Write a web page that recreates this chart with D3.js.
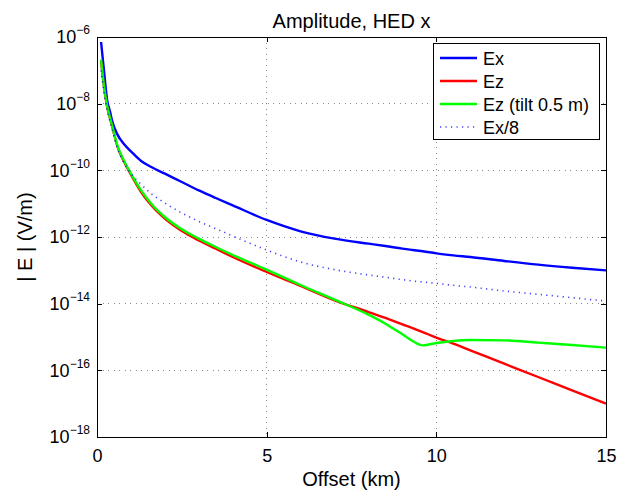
<!DOCTYPE html>
<html>
<head>
<meta charset="utf-8">
<script src="https://cdn.jsdelivr.net/npm/d3@7"></script>
<style>
  body { margin: 0; background: #fff; }
  svg { font-family: "Liberation Sans", Arial, Helvetica, sans-serif; }
  .grid line { stroke: #000; stroke-opacity: 0.45; stroke-dasharray: 1,4.5; shape-rendering: crispEdges; }
  .axis path, .axis line { stroke: #000; shape-rendering: crispEdges; }
  .axis text { fill: #000; font-size: 18px; font-family: "Liberation Sans", Arial, sans-serif; }
</style>
</head>
<body>
<svg class="chart"></svg>
<script>
// offsets (km) shared by all four curves
var offsetKm = [0.12, 0.2, 0.3, 0.38, 0.45, 0.6, 0.8, 1, 1.3, 1.6, 2, 2.5, 3, 3.5, 4, 5, 6, 7, 8, 8.5, 9, 9.3, 9.6, 10, 10.5, 11, 12, 13, 14, 15];

// |E| in V/m
var ex = [7.08e-7, 1.12e-7, 1.26e-8, 6.03e-9, 2.95e-9, 1.20e-9, 6.03e-10, 3.72e-10, 1.91e-10, 1.26e-10, 7.94e-11, 4.47e-11, 2.51e-11, 1.48e-11, 8.91e-12, 3.24e-12, 1.48e-12, 8.91e-13, 6.31e-13, 5.37e-13, 4.47e-13, 4.07e-13, 3.72e-13, 3.24e-13, 2.82e-13, 2.51e-13, 1.91e-13, 1.48e-13, 1.20e-13, 1.0e-13];
var ez = [2.0e-7, 3.55e-8, 7.94e-9, 3.72e-9, 2.0e-9, 5.25e-10, 1.78e-10, 7.41e-11, 2.24e-11, 8.91e-12, 3.55e-12, 1.51e-12, 7.94e-13, 4.47e-13, 2.51e-13, 8.91e-14, 3.39e-14, 1.26e-14, 5.62e-15, 3.72e-15, 2.40e-15, 1.86e-15, 1.41e-15, 9.55e-16, 6.31e-16, 3.98e-16, 1.58e-16, 6.31e-17, 2.51e-17, 1.0e-17];
var ezTilt = [2.09e-7, 3.72e-8, 8.32e-9, 3.89e-9, 2.09e-9, 5.50e-10, 1.91e-10, 7.94e-11, 2.51e-11, 1.0e-11, 3.98e-12, 1.70e-12, 8.91e-13, 5.01e-13, 2.88e-13, 1.05e-13, 3.63e-14, 1.32e-14, 4.68e-15, 2.51e-15, 1.20e-15, 7.59e-16, 5.62e-16, 6.61e-16, 7.59e-16, 8.13e-16, 7.94e-16, 6.76e-16, 5.75e-16, 4.79e-16];
var exOver8 = [1.0e-7, 2.40e-8, 6.31e-9, 3.02e-9, 1.66e-9, 4.68e-10, 1.66e-10, 7.94e-11, 3.80e-11, 2.0e-11, 1.05e-11, 5.25e-12, 2.95e-12, 1.78e-12, 1.07e-12, 4.07e-13, 1.78e-13, 1.05e-13, 7.24e-14, 6.17e-14, 5.25e-14, 4.79e-14, 4.47e-14, 4.07e-14, 3.55e-14, 3.16e-14, 2.40e-14, 1.91e-14, 1.51e-14, 1.20e-14];

var seriesNames = ["Ex", "Ez", "Ez (tilt 0.5 m)", "Ex/8"];
var seriesColors = ["#0000ff", "#ff0000", "#00ff00", "#0000ff"];
var xTicks = [0, 5, 10, 15];
var yTicks = [1e-6, 1e-8, 1e-10, 1e-12, 1e-14, 1e-16, 1e-18];

var width = 622, height = 494;
var margin = {top: 37, right: 16, bottom: 57, left: 97};
var chartWidth = width - margin.left - margin.right;
var chartHeight = height - margin.top - margin.bottom;

var svg = d3.select(".chart").attr("width", width).attr("height", height);
var chart = svg.append("g").attr("transform", "translate(" + margin.left + "," + margin.top + ")");

var x = d3.scaleLinear().domain([0, 15]).range([0, chartWidth]);
var y = d3.scaleLog().domain([1e-18, 1e-6]).range([chartHeight, 0]);

function expOf(v) { return Math.round(Math.log10(v)); }

// dotted grid
var grid = chart.append("g").attr("class", "grid");
grid.selectAll(".gx").data(xTicks.slice(1, -1)).enter().append("line")
    .attr("x1", function(d) { return x(d); }).attr("x2", function(d) { return x(d); })
    .attr("y1", 0).attr("y2", chartHeight);
grid.selectAll(".gy").data(yTicks.slice(1, -1)).enter().append("line")
    .attr("x1", 0).attr("x2", chartWidth)
    .attr("y1", function(d) { return y(d); }).attr("y2", function(d) { return y(d); });

// curves
var series = [ex, ez, ezTilt, exOver8];
var line = d3.line()
    .x(function(d) { return x(d[0]); })
    .y(function(d) { return y(d[1]); })
    .curve(d3.curveMonotoneX);

function styleLine(sel, i) {
  sel.attr("stroke", seriesColors[i]);
  if (i == 3) sel.attr("stroke-width", 1.6).attr("stroke-dasharray", "1.2,4.3").attr("stroke-opacity", 0.75);
  else sel.attr("stroke-width", 2.4);
}

series.forEach(function(vals, i) {
  var pts = offsetKm.map(function(k, j) { return [k, vals[j]]; });
  chart.append("path")
      .datum(pts)
      .attr("fill", "none")
      .attr("d", line)
      .call(styleLine, i);
});

// axes, ticks point inward like matlab
function buildXAxis() {
  chart.append("g").attr("class", "axis")
      .attr("transform", "translate(0," + chartHeight + ")")
      .call(d3.axisBottom(x).tickValues(xTicks).tickSizeInner(-5).tickSizeOuter(0).tickPadding(12));
  chart.append("g").attr("class", "axis")
      .call(d3.axisTop(x).tickValues(xTicks).tickSizeInner(-5).tickSizeOuter(0).tickFormat(""));

  chart.append("text")
      .attr("x", chartWidth / 2).attr("y", chartHeight + 49)
      .attr("text-anchor", "middle").attr("font-size", 20)
      .text("Offset (km)");
}

function buildYAxis() {
  var g = chart.append("g").attr("class", "axis")
      .call(d3.axisLeft(y).tickValues(yTicks).tickSizeInner(-5).tickSizeOuter(0).tickPadding(7).tickFormat(""));
  g.selectAll(".tick text").each(function(d) {
    var t = d3.select(this);
    t.append("tspan").text("10");
    t.append("tspan").attr("dy", -9).attr("font-size", 12).text("\u2212" + (-expOf(d)));
  });
  chart.append("g").attr("class", "axis")
      .attr("transform", "translate(" + chartWidth + ",0)")
      .call(d3.axisRight(y).tickValues(yTicks).tickSizeInner(-5).tickSizeOuter(0).tickFormat(""));

  //Add Text label for the y-axis
  chart.append("text")
      .attr("transform", "translate(" + (32 - margin.left) + "," + (chartHeight / 2) + ") rotate(-90)")
      .attr("text-anchor", "middle").attr("font-size", 20)
      .text("| E | (V/m)");
}

buildXAxis();
buildYAxis();

chart.append("text")
    .attr("x", chartWidth / 2).attr("y", -9)
    .attr("text-anchor", "middle").attr("font-size", 20)
    .text("Amplitude, HED x");

// legend
var legend = chart.append("g").attr("transform", "translate(" + (433 - margin.left) + "," + (43 - margin.top) + ")");
legend.append("rect").attr("width", 166).attr("height", 96)
    .attr("fill", "#fff").attr("stroke", "#000").attr("shape-rendering", "crispEdges");
seriesNames.forEach(function(name, i) {
  var row = legend.append("g").attr("transform", "translate(0," + (15 + i * 23) + ")");
  row.append("line").attr("x1", 7).attr("x2", 44).attr("y1", 0).attr("y2", 0).call(styleLine, i);
  row.append("text").attr("x", 50).attr("y", 6.5).attr("font-size", 18).text(name);
});
</script>
</body>
</html>
